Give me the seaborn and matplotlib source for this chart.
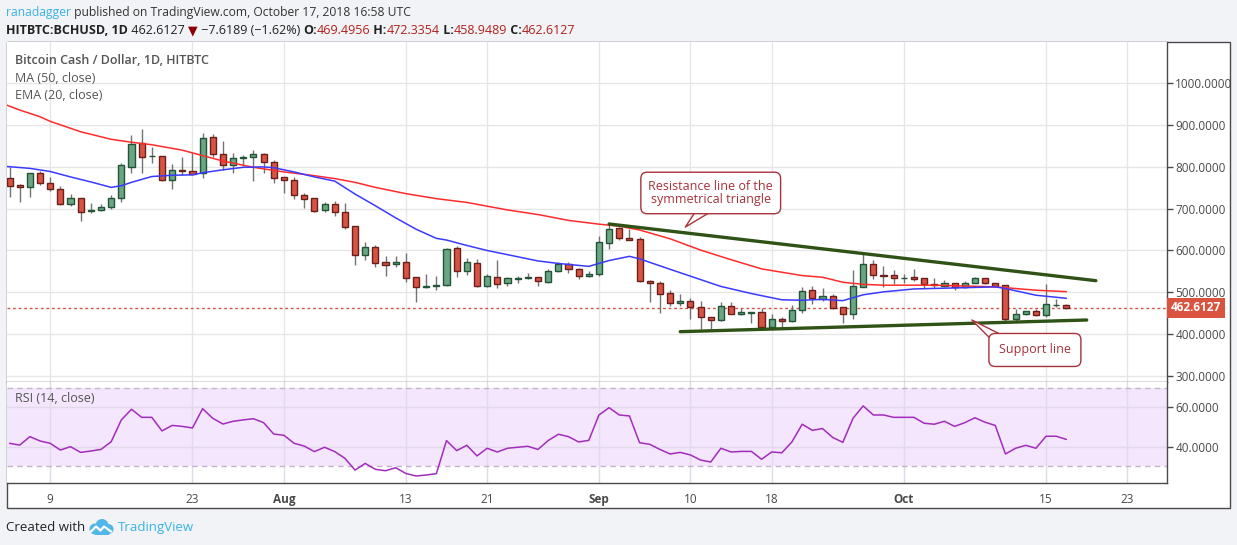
import matplotlib
matplotlib.use("Agg")
import matplotlib.pyplot as plt
import matplotlib.dates as mdates
from matplotlib.patches import Rectangle, Circle
from matplotlib.ticker import FixedLocator, FuncFormatter
import seaborn as sns
import pandas as pd
import numpy as np

sns.set_theme(style="white")
plt.rcParams['font.family'] = ['Open Sans', 'DejaVu Sans']

W, H = 1237, 545

# --- datos (BCHUSD diario, HitBTC) ---
start = pd.Timestamp("2018-07-05")
opens = [772.6, 755.9, 751.1, 784.6, 760.7, 746.3, 710.4, 724.8, 695.5, 696.9,
         703.3, 724.8, 800.5, 856.4, 825.0, 825.2, 767.8, 791.5, 789.3, 784.6,
         870.7, 830.0, 803.7, 821.0, 822.8, 830.8, 812.5, 775.0, 767.8, 732.0,
         724.8, 696.1, 710.4, 691.4, 657.8, 588.4, 608.4, 571.7, 566.9, 571.7,
         535.8, 512.5, 514.3, 516.7, 605.2, 551.8, 569.3, 514.3, 535.8, 521.5,
         531.8, 534.5, 535.8, 523.8, 551.0, 566.9, 554.9, 538.2, 543.0, 617.1,
         653.0, 629.0, 626.7, 527.0, 521.4, 497.5, 473.6, 479.2, 465.6, 440.1,
         432.9, 467.2, 447.3, 451.5, 452.1, 417.8, 436.1, 430.5, 456.9, 504.7,
         483.2, 491.1, 464.0, 447.3, 513.5, 567.7, 541.0, 540.6, 533.0, 535.8,
         533.4, 519.1, 515.9, 522.2, 512.7, 522.2, 533.4, 521.5, 516.7, 435.3,
         448.1, 455.3, 444.9, 469.0, 469.4956]
highs = [800.5, 759.1, 786.2, 790.1, 775.0, 754.3, 734.3, 726.0, 712.8, 710.4,
         732.8, 808.5, 876.3, 890.6, 846.7, 825.2, 806.9, 823.6, 832.4, 880.3,
         878.7, 861.9, 832.4, 828.4, 840.4, 832.4, 816.5, 776.6, 776.6, 736.7,
         726.4, 716.8, 718.4, 713.6, 657.8, 620.3, 613.2, 586.8, 586.8, 594.0,
         537.4, 543.8, 539.0, 606.0, 610.8, 582.9, 579.7, 543.0, 577.3, 535.8,
         539.8, 546.2, 536.5, 554.9, 573.3, 573.3, 558.9, 551.0, 634.7, 663.4,
         655.4, 650.6, 631.4, 529.4, 527.8, 505.5, 495.1, 487.2, 480.0, 441.7,
         476.0, 476.8, 461.7, 452.9, 461.7, 448.1, 441.7, 468.8, 511.9, 515.1,
         509.5, 495.1, 464.0, 553.3, 593.2, 577.3, 562.9, 553.3, 543.8, 554.9,
         533.4, 533.4, 529.4, 522.2, 527.0, 536.6, 533.4, 523.0, 516.7, 459.3,
         456.1, 459.3, 520.0, 483.2, 472.3354]
lows = [728.8, 716.8, 728.8, 756.7, 743.1, 709.6, 707.2, 671.4, 689.0, 694.5,
        700.1, 716.8, 786.2, 786.2, 808.5, 767.0, 747.9, 780.6, 779.8, 774.2,
        822.8, 792.5, 786.2, 802.1, 767.0, 786.2, 762.3, 738.3, 724.0, 702.5,
        693.0, 691.4, 682.6, 652.2, 565.3, 578.1, 561.3, 539.8, 559.7, 525.4,
        477.6, 511.1, 506.3, 515.9, 537.4, 542.2, 511.9, 513.5, 511.1, 515.9,
        523.0, 531.8, 515.9, 523.0, 549.4, 547.0, 531.0, 536.6, 539.8, 603.6,
        625.9, 625.0, 525.5, 477.6, 451.3, 467.2, 467.2, 436.1, 411.4, 412.2,
        432.1, 447.3, 444.9, 427.3, 415.4, 415.4, 413.8, 428.9, 451.3, 472.8,
        480.0, 460.8, 427.4, 436.1, 513.0, 531.8, 513.5, 519.9, 523.0, 527.0,
        509.5, 509.5, 513.5, 506.3, 509.5, 521.5, 520.7, 513.5, 431.3, 431.3,
        445.7, 443.3, 440.1, 464.0, 458.9489]
closes = [755.1, 751.1, 784.6, 760.7, 746.3, 710.4, 724.8, 691.4, 697.0, 703.3,
          724.8, 803.7, 854.0, 822.8, 826.3, 767.8, 791.7, 790.0, 782.2, 868.3,
          830.8, 803.7, 820.5, 822.5, 830.0, 812.5, 772.6, 767.8, 732.0, 722.4,
          695.3, 710.4, 692.2, 657.0, 588.4, 608.4, 569.3, 564.5, 571.7, 533.4,
          511.9, 514.0, 517.5, 602.8, 551.8, 571.7, 514.3, 538.2, 519.1, 533.4,
          533.0, 536.0, 526.2, 550.2, 567.7, 554.9, 538.2, 543.8, 619.5, 650.6,
          629.1, 625.9, 526.2, 521.4, 496.7, 473.6, 479.2, 465.6, 440.1, 432.9,
          467.2, 448.9, 452.1, 452.5, 417.8, 436.1, 430.5, 456.9, 503.1, 485.6,
          490.4, 463.2, 447.3, 515.1, 567.7, 540.6, 540.0, 533.4, 534.0, 531.8,
          519.1, 517.8, 522.2, 512.7, 522.2, 534.2, 522.2, 515.9, 435.3, 447.3,
          455.3, 444.9, 472.0, 470.2, 462.6127]

# medias moviles (dias desde el 5 de julio)
ma50_days = [-0.3, 1, 3, 4, 7, 10, 12, 14, 17, 19, 21, 24, 27, 30, 32, 34, 36, 39, 42, 45,
             49, 52, 55, 58, 60, 62, 65, 68, 71, 74, 78, 80, 82, 84, 86, 91, 94, 97, 98, 101, 104]
ma50_vals = [948, 936, 920, 909, 884, 866, 859, 853, 840, 827, 814, 799, 788, 779, 772, 763,
             751, 736, 724, 715, 697, 686, 672, 663, 658, 649, 628, 601, 578, 556, 540, 536,
             524, 519, 517, 517, 515, 513, 511, 505, 501.5]
ema20_days = [-0.8, 2, 4, 6, 8, 10, 11, 12, 14, 16, 18, 19, 21, 23, 25, 26, 28, 30, 32, 34,
              36, 38, 40, 42, 43, 45, 47, 49, 52, 54, 57, 58, 59, 61, 62, 65, 70, 73, 76, 78,
              80, 82, 83, 84, 86, 89, 94, 97, 98, 101, 104]
ema20_vals = [802, 796.5, 789, 776, 764, 751, 755, 763, 777, 780, 781, 786, 793, 799, 800,
              798, 788, 776, 766, 735, 707, 678, 651, 629, 625, 612, 600, 590, 575, 569, 562,
              569, 576, 586, 580, 555, 514, 497, 482, 481, 483, 480, 487, 494, 501, 508, 511,
              513, 509, 493, 485.6]

rsi_vals = [41.7, 40.8, 45.1, 42.9, 41.7, 38.3, 40.0, 37.1, 37.8, 38.6,
            42.5, 53.6, 59.0, 54.9, 54.9, 48.0, 50.8, 50.3, 49.5, 59.3,
            54.4, 51.5, 52.9, 53.6, 54.2, 52.2, 46.4, 45.8, 41.7, 40.3,
            37.5, 39.7, 37.5, 34.1, 28.1, 31.5, 28.5, 27.8, 29.3, 26.4,
            25.1, 25.6, 26.3, 43.1, 38.0, 40.7, 35.3, 39.2, 37.3, 39.2,
            39.7, 40.2, 38.6, 43.1, 46.3, 45.1, 42.4, 43.2, 56.1,
            59.8, 56.1, 55.6, 42.0, 41.2, 38.6, 36.3, 37.1, 35.8, 33.2,
            32.2, 39.2, 37.3, 37.6, 37.6, 33.6, 37.3, 36.9, 42.5, 51.4,
            48.3, 49.2, 44.7, 42.2, 54.4, 60.7, 56.1, 56.1, 54.9, 54.9,
            54.9, 51.9, 51.4, 52.9, 50.3, 52.2, 54.7, 52.4, 50.8, 36.3,
            39.2, 40.7, 39.2, 45.3, 45.3, 43.7]

# lineas de tendencia (dias desde el 5 de julio, precio)
resistance_days = [59.0, 106.9]
resistance_vals = [663.4, 527.8]
support_days = [66.0, 106.0]
support_vals = [405.8, 433.7]

tick_dates = ["2018-07-09", "2018-07-23", "2018-08-01", "2018-08-13", "2018-08-21", "2018-09-01",
              "2018-09-10", "2018-09-18", "2018-10-01", "2018-10-15", "2018-10-23"]
tick_labels = ["9", "23", "Aug", "13", "21", "Sep", "10", "18", "Oct", "15", "23"]
price_ticks = [300, 400, 500, 600, 700, 800, 900, 1000]
rsi_ticks = [40, 60]
last_close = 462.6127

# --- colores estilo TradingView ---
UP_FILL, UP_EDGE = "#6ba583", "#225437"
DN_FILL, DN_EDGE = "#d75442", "#6b1f1c"
WICK = "#737375"
CALLOUT = "#a8323a"
AXIS_TXT = "#4a4a4a"


def fx(p):
    return p / W


def fy(p):
    return 1 - p / H


fig = plt.figure(figsize=(W / 100, H / 100), dpi=100, facecolor="#f1f3f6")
fig.add_artist(Rectangle((fx(6.5), fy(507.7)), fx(1229.6) - fx(6.5), fy(41.7) - fy(507.7),
                         transform=fig.transFigure, facecolor="white", edgecolor="#4a4a4a",
                         lw=1, zorder=-1))

ax = fig.add_axes([fx(6.5), fy(381.7), fx(1167) - fx(6.5), fy(41.7) - fy(381.7)])
ax2 = fig.add_axes([fx(6.5), fy(483.3), fx(1167) - fx(6.5), fy(381.7) - fy(483.3)], sharex=ax)

x0 = mdates.date2num(start)
dates = pd.date_range(start, periods=len(closes), freq="D")
x = mdates.date2num(dates)
o = np.array(opens)
c = np.array(closes)
up = c >= o

# velas
ax.vlines(x, lows, highs, color=WICK, lw=1, zorder=2)
ax.bar(x, np.maximum(np.abs(c - o), 0.8), width=0.6, bottom=np.minimum(o, c),
       color=np.where(up, UP_FILL, DN_FILL), edgecolor=np.where(up, UP_EDGE, DN_EDGE),
       linewidth=1, zorder=3)

# MA y EMA
sns.lineplot(x=x0 + np.array(ma50_days), y=ma50_vals, ax=ax, color="#ff2b2b", linewidth=1.1,
             estimator=None, sort=False, zorder=4)
sns.lineplot(x=x0 + np.array(ema20_days), y=ema20_vals, ax=ax, color="#3a3aff", linewidth=1.1,
             estimator=None, sort=False, zorder=4)

# triangulo simetrico
ax.plot(x0 + np.array(resistance_days), resistance_vals, color="#2f5216", lw=2.4,
        solid_capstyle="round", zorder=5)
ax.plot(x0 + np.array(support_days), support_vals, color="#2f5216", lw=2.4,
        solid_capstyle="round", zorder=5)

ax.axhline(last_close, color=DN_FILL, ls=(0, (2, 2)), lw=1, zorder=1)

ax.set_xlim(x0 - 0.3, x0 + 113.9)
ax.set_ylim(286.1, 1099.5)
ax.set_xlabel("")
ax.set_ylabel("")

tick_x = mdates.date2num(pd.to_datetime(tick_dates))
ax.xaxis.set_major_locator(FixedLocator(tick_x))
ax.yaxis.set_major_locator(FixedLocator(price_ticks))
ax.yaxis.set_major_formatter(FuncFormatter(lambda v, p: f"{v:.4f}"))
ax.yaxis.tick_right()
ax.tick_params(axis="y", labelsize=8.5, colors=AXIS_TXT, length=4, width=1, pad=2, right=True)
ax.tick_params(axis="x", length=0, labelbottom=False)
ax.grid(True, color="#e6e6e6", lw=1)
ax.set_axisbelow(True)
for side in ["top", "left"]:
    ax.spines[side].set_visible(False)
for side in ["right", "bottom"]:
    ax.spines[side].set_color("#4a4a4a")
    ax.spines[side].set_linewidth(1)

ax.annotate(f"{last_close:.4f}", xy=(1, last_close), xycoords=("axes fraction", "data"),
            xytext=(4, 0), textcoords="offset pixels", ha="left", va="center",
            fontsize=8.5, fontweight="bold", color="white", annotation_clip=False,
            bbox=dict(boxstyle="square,pad=0.3", fc="#d9533f", ec="none"))

# llamadas
ax.annotate("Resistance line of the\nsymmetrical triangle",
            xy=(x0 + 66.5, 656), xytext=(x0 + 69.0, 737.6), ha="center", va="center",
            fontsize=9, color=CALLOUT, linespacing=1.05, zorder=6,
            bbox=dict(boxstyle="round,pad=0.6,rounding_size=0.5", fc="white", ec=CALLOUT, lw=1),
            arrowprops=dict(arrowstyle="wedge,tail_width=1.1,shrink_factor=0.5", fc="white",
                            ec=CALLOUT, lw=1, relpos=(0.47, 0.0), patchA=None,
                            shrinkA=0, shrinkB=0))
ax.annotate("Support line",
            xy=(x0 + 94.7, 433.7), xytext=(x0 + 100.9, 362), ha="center", va="center",
            fontsize=9, color=CALLOUT, zorder=6,
            bbox=dict(boxstyle="round,pad=0.8,rounding_size=0.5", fc="white", ec=CALLOUT, lw=1),
            arrowprops=dict(arrowstyle="wedge,tail_width=1.1,shrink_factor=0.5", fc="white",
                            ec=CALLOUT, lw=1, relpos=(0.1, 0.9), patchA=None,
                            shrinkA=0, shrinkB=0))

# panel RSI
ax2.axhspan(30, 70, color="#f3e6fd", zorder=0, lw=0)
for lvl in (30, 70):
    ax2.axhline(lvl, color="#c4b3cc", ls=(0, (4, 3)), lw=1, zorder=1)
sns.lineplot(x=x, y=rsi_vals, ax=ax2, color="#a32cbc", linewidth=1.1, estimator=None,
             sort=False, zorder=3)
ax2.set_ylim(21.4, 73.0)
ax2.set_xlabel("")
ax2.set_ylabel("")
ax2.yaxis.set_major_locator(FixedLocator(rsi_ticks))
ax2.yaxis.set_major_formatter(FuncFormatter(lambda v, p: f"{v:.4f}"))
ax2.yaxis.tick_right()
ax2.tick_params(axis="y", labelsize=8.5, colors=AXIS_TXT, length=4, width=1, pad=2, right=True)
ax2.set_xticks(tick_x)
ax2.set_xticklabels(tick_labels)
ax2.tick_params(axis="x", labelsize=8.5, colors=AXIS_TXT, length=0, pad=7, labelbottom=True)
for lab in ax2.get_xticklabels():
    if not lab.get_text().isdigit():
        lab.set_fontweight("bold")
ax2.grid(True, color="#e2d9ea", lw=1)
ax2.set_axisbelow(True)
for side in ["top", "left"]:
    ax2.spines[side].set_visible(False)
for side in ["right", "bottom"]:
    ax2.spines[side].set_color("#4a4a4a")
    ax2.spines[side].set_linewidth(1)

# textos de cabecera y leyendas
renderer = fig.canvas.get_renderer()


def chain(xp, yp, parts, size):
    for s, col, wt in parts:
        t = fig.text(fx(xp), fy(yp), s, color=col, fontweight=wt, fontsize=size,
                     ha="left", va="baseline")
        xp += t.get_window_extent(renderer).width
    return xp


chain(6, 16, [("ranadagger", "#3bb3e4", "normal"),
              (" published on TradingView.com, October 17, 2018 16:58 UTC", "#333333", "normal")], 8.75)
RED = "#b3201c"
chain(6, 34, [("HITBTC:BCHUSD, 1D", "#222222", "bold"),
              (" 462.6127 ", "#222222", "normal"),
              ("▼", "#8b0000", "normal"),
              (" −7.6189 (−1.62%) ", "#222222", "normal"),
              ("O:", "#222222", "bold"), ("469.4956", RED, "normal"),
              (" H:", "#222222", "bold"), ("472.3354", RED, "normal"),
              (" L:", "#222222", "bold"), ("458.9489", RED, "normal"),
              (" C:", "#222222", "bold"), ("462.6127", RED, "normal")], 9)

fig.text(fx(15), fy(61), "Bitcoin Cash / Dollar, 1D, HITBTC", fontsize=9, fontweight="semibold",
         color="#555555", va="center")
fig.text(fx(15), fy(78.5), "MA (50, close)", fontsize=9, color="#555555", va="center")
fig.text(fx(15), fy(95), "EMA (20, close)", fontsize=9, color="#555555", va="center")
fig.text(fx(15), fy(399), "RSI (14, close)", fontsize=9, color="#555555", va="center")

fig.text(fx(6), fy(531), "Created with", fontsize=9.5, color="#222222", va="baseline")
fig.text(fx(118), fy(531), "TradingView", fontsize=9.5, color="#3bb3e4", va="baseline")
logo = fig.add_axes([fx(88), fy(535), fx(26), fy(519) - fy(535)])
logo.set_xlim(0, 26)
logo.set_ylim(0, 16)
logo.axis("off")
for cx, cy, r in [(7, 6, 5.5), (14, 9.5, 6.5), (20.5, 6, 5)]:
    logo.add_patch(Circle((cx, cy), r, color="#52b6e6", lw=0))
logo.add_patch(Rectangle((7, 0.5), 13.5, 6, color="#52b6e6", lw=0))
logo.plot([3, 8, 12.5, 16, 23], [3.5, 8.5, 4.5, 8.5, 3.5], color="white", lw=1.6)

fig.savefig("out.png", dpi=100, facecolor=fig.get_facecolor())
